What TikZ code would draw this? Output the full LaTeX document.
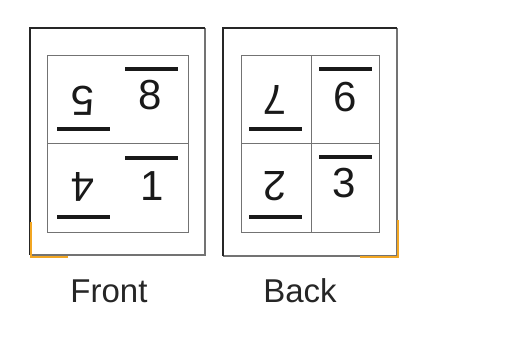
\documentclass[tikz,border=0pt]{standalone}
\usepackage{fontspec}
\setmainfont{Liberation Sans}
\begin{document}
\begin{tikzpicture}[x=1pt,y=-1pt,
  outerdark/.style={draw=black!85,line width=1.1pt},
  outerlight/.style={draw=black!55,line width=1.1pt},
  innerbox/.style={draw=black!55,line width=0.9pt},
  pbar/.style={line width=4.4pt,draw=black!90},
  digit/.style={inner sep=0pt,font=\fontsize{42}{42}\selectfont,text=black!90},
  label/.style={inner sep=0pt,font=\fontsize{33}{33}\selectfont,text=black!85,anchor=base},
  corner/.style={draw={rgb,255:red,242;green,166;blue,35},line width=2.6pt}]
\useasboundingbox (0,0) rectangle (530,338);
% Front sheet
\draw[outerlight] (205,28) -- (205,255) -- (30,255);
\draw[outerdark] (30,255) -- (30,28) -- (205,28);
\draw[innerbox] (47,55) rectangle (188,232);
\draw[innerbox] (47,143) -- (188,143);
\draw[corner] (31,222) -- (31,257) -- (68,257);
\node[digit] (n8) at (150,95) {8};
\node[digit,rotate=180] (n5) at (83,101) {5};
\node[digit] (n1) at (152,186) {1};
\node[digit,rotate=180] (n4) at (83,187) {4};
\draw[pbar] (125,69) -- (178,69);
\draw[pbar] (57,129) -- (110,129);
\draw[pbar] (125,158) -- (178,158);
\draw[pbar] (57,217) -- (110,217);
\node[label] (front) at (109,302) {Front};
% Back sheet
\draw[outerlight] (397,28) -- (397,256) -- (223,256);
\draw[outerdark] (223,256) -- (223,28) -- (397,28);
\draw[innerbox] (241,55) rectangle (379,232);
\draw[innerbox] (241,143) -- (379,143);
\draw[innerbox] (311,55) -- (311,232);
\draw[corner] (398,220) -- (398,257) -- (360,257);
\node[digit] (n6) at (345,97) {6};
\node[digit,rotate=180] (n7) at (275,100) {7};
\node[digit] (n3) at (344,183) {3};
\node[digit,rotate=180] (n2) at (275,186) {2};
\draw[pbar] (319,69) -- (372,69);
\draw[pbar] (249,129) -- (302,129);
\draw[pbar] (319,157) -- (372,157);
\draw[pbar] (249,217) -- (302,217);
\node[label] (back) at (300,302) {Back};
\end{tikzpicture}
\end{document}
